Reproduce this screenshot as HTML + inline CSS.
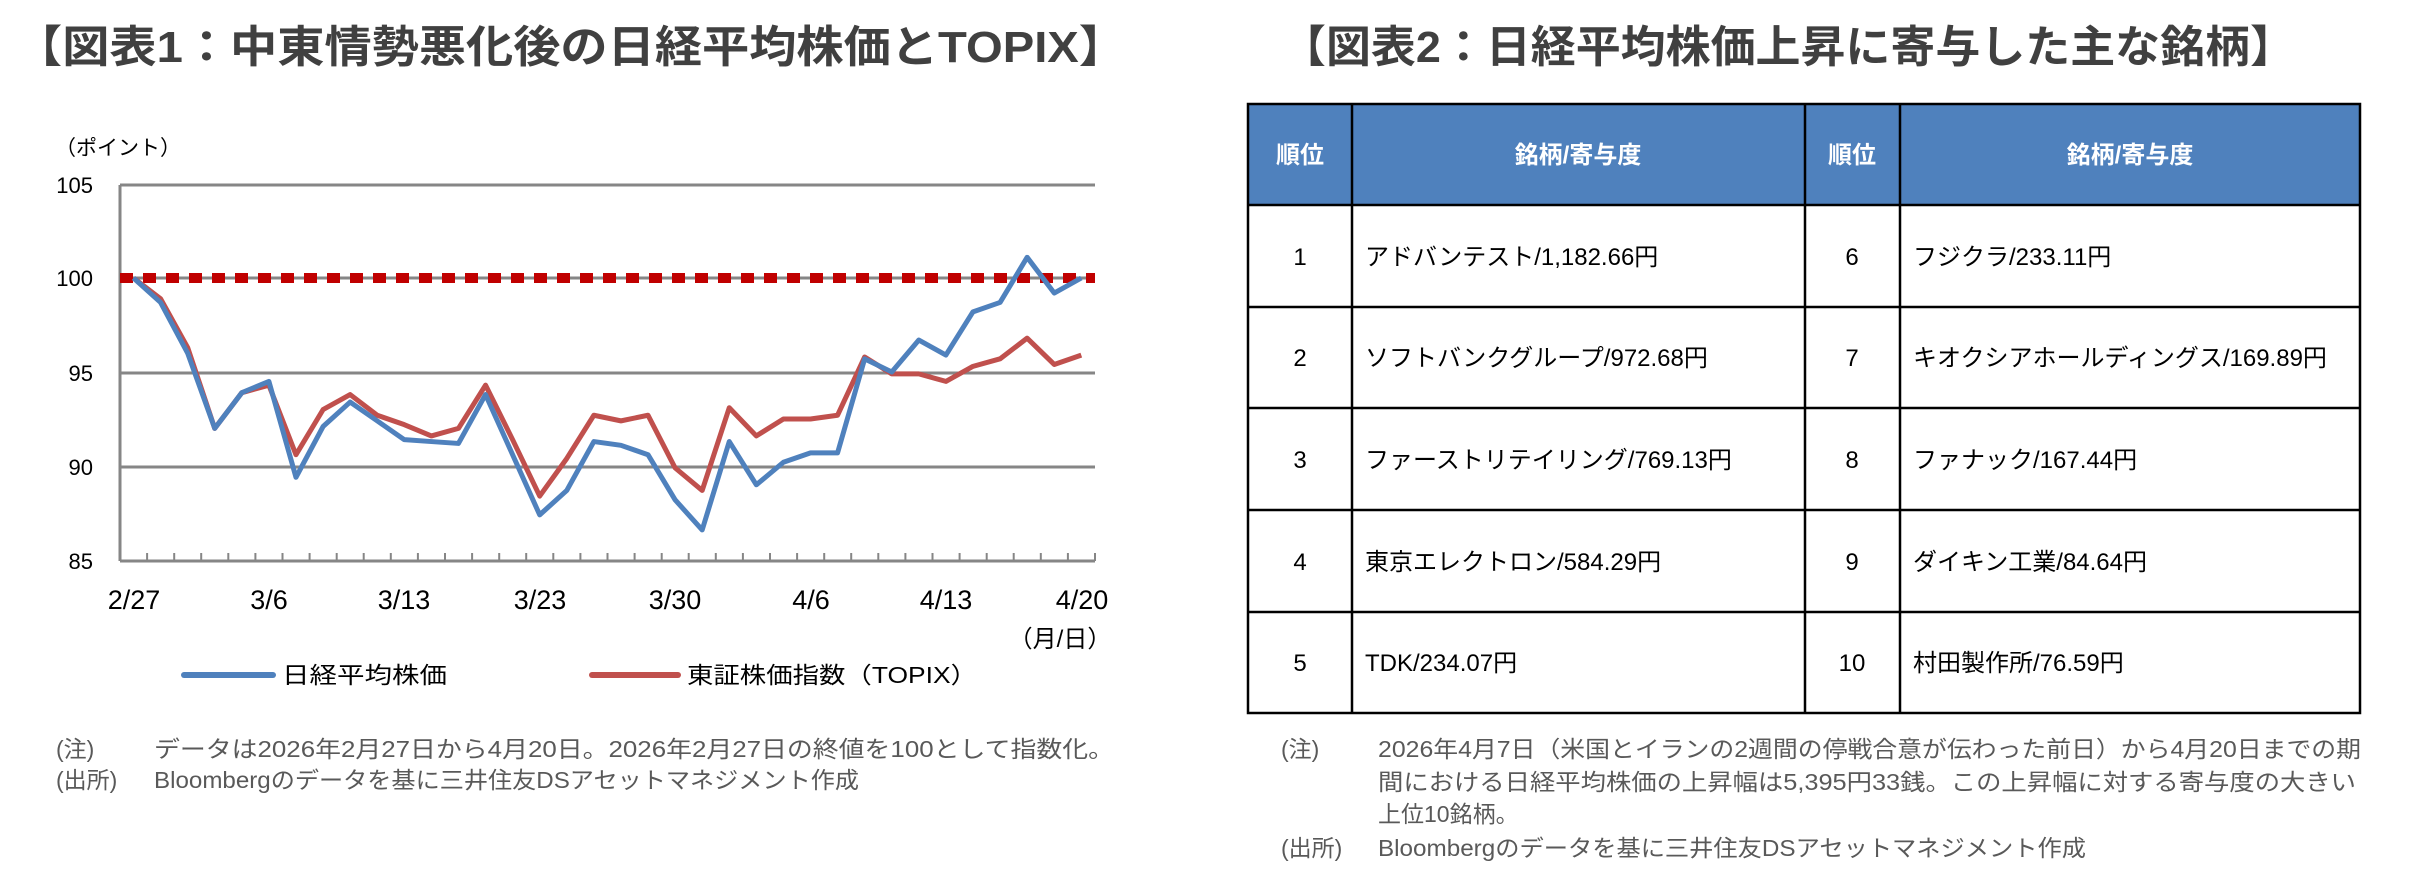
<!DOCTYPE html>
<html><head><meta charset="utf-8"><style>
html,body{margin:0;padding:0;background:#fff;width:2419px;height:879px;overflow:hidden}
text{font-family:"Liberation Sans","Noto Sans CJK JP",sans-serif}
</style></head><body>
<svg width="2419" height="879" viewBox="0 0 2419 879" xmlns="http://www.w3.org/2000/svg">
<text x="15" y="62" font-size="44" font-weight="bold" fill="#404040" textLength="1111" lengthAdjust="spacingAndGlyphs">【図表1：中東情勢悪化後の日経平均株価とTOPIX】</text>
<text x="1281" y="62" font-size="44" font-weight="bold" fill="#404040" textLength="1014" lengthAdjust="spacingAndGlyphs">【図表2：日経平均株価上昇に寄与した主な銘柄】</text>

<text x="118" y="155" font-size="21" fill="#000" text-anchor="middle">（ポイント）</text>
<g stroke="#868686" stroke-width="3">
<line x1="120" y1="185" x2="1095" y2="185"/>
<line x1="120" y1="278" x2="1095" y2="278"/>
<line x1="120" y1="373" x2="1095" y2="373"/>
<line x1="120" y1="467" x2="1095" y2="467"/>
<line x1="120" y1="561" x2="1095" y2="561"/>
<line x1="120" y1="185" x2="120" y2="561"/>
</g>
<g stroke="#868686" stroke-width="2">
<line x1="120" y1="553" x2="120" y2="561"/><line x1="147.1" y1="553" x2="147.1" y2="561"/><line x1="174.2" y1="553" x2="174.2" y2="561"/><line x1="201.2" y1="553" x2="201.2" y2="561"/><line x1="228.3" y1="553" x2="228.3" y2="561"/><line x1="255.4" y1="553" x2="255.4" y2="561"/><line x1="282.5" y1="553" x2="282.5" y2="561"/><line x1="309.6" y1="553" x2="309.6" y2="561"/><line x1="336.7" y1="553" x2="336.7" y2="561"/><line x1="363.7" y1="553" x2="363.7" y2="561"/><line x1="390.8" y1="553" x2="390.8" y2="561"/><line x1="417.9" y1="553" x2="417.9" y2="561"/><line x1="445" y1="553" x2="445" y2="561"/><line x1="472.1" y1="553" x2="472.1" y2="561"/><line x1="499.2" y1="553" x2="499.2" y2="561"/><line x1="526.2" y1="553" x2="526.2" y2="561"/><line x1="553.3" y1="553" x2="553.3" y2="561"/><line x1="580.4" y1="553" x2="580.4" y2="561"/><line x1="607.5" y1="553" x2="607.5" y2="561"/><line x1="634.6" y1="553" x2="634.6" y2="561"/><line x1="661.7" y1="553" x2="661.7" y2="561"/><line x1="688.7" y1="553" x2="688.7" y2="561"/><line x1="715.8" y1="553" x2="715.8" y2="561"/><line x1="742.9" y1="553" x2="742.9" y2="561"/><line x1="770" y1="553" x2="770" y2="561"/><line x1="797.1" y1="553" x2="797.1" y2="561"/><line x1="824.2" y1="553" x2="824.2" y2="561"/><line x1="851.2" y1="553" x2="851.2" y2="561"/><line x1="878.3" y1="553" x2="878.3" y2="561"/><line x1="905.4" y1="553" x2="905.4" y2="561"/><line x1="932.5" y1="553" x2="932.5" y2="561"/><line x1="959.6" y1="553" x2="959.6" y2="561"/><line x1="986.7" y1="553" x2="986.7" y2="561"/><line x1="1013.7" y1="553" x2="1013.7" y2="561"/><line x1="1040.8" y1="553" x2="1040.8" y2="561"/><line x1="1067.9" y1="553" x2="1067.9" y2="561"/><line x1="1095" y1="553" x2="1095" y2="561"/>
</g>
<g font-size="22" fill="#000" text-anchor="end">
<text x="93" y="193">105</text><text x="93" y="286">100</text><text x="93" y="381">95</text><text x="93" y="475">90</text><text x="93" y="569">85</text>
</g>
<g font-size="27" fill="#000" text-anchor="middle">
<text x="134" y="609">2/27</text><text x="269" y="609">3/6</text><text x="404" y="609">3/13</text><text x="540" y="609">3/23</text><text x="675" y="609">3/30</text><text x="811" y="609">4/6</text><text x="946" y="609">4/13</text><text x="1082" y="609">4/20</text>
</g>
<text x="1060" y="647" font-size="24" fill="#000" text-anchor="middle">（月/日）</text>
<line x1="120" y1="278" x2="1095" y2="278" stroke="#c00000" stroke-width="10" stroke-dasharray="13,10"/>
<g transform="translate(133.5,2158) scale(27.08,-18.8)" fill="none" stroke-linejoin="round">
<polyline vector-effect="non-scaling-stroke" stroke="#c0504d" stroke-width="5" points="0,100 1,98.9 2,96.3 3,92 4,93.9 5,94.3 6,90.6 7,93 8,93.8 9,92.7 10,92.2 11,91.6 12,92 13,94.3 14,91.4 15,88.4 16,90.4 17,92.7 18,92.4 19,92.7 20,89.9 21,88.7 22,93.1 23,91.6 24,92.5 25,92.5 26,92.7 27,95.8 28,94.9 29,94.9 30,94.5 31,95.3 32,95.7 33,96.8 34,95.4 35,95.9"/>
<polyline vector-effect="non-scaling-stroke" stroke="#4f81bd" stroke-width="5" points="0,100 1,98.7 2,96 3,92 4,93.9 5,94.5 6,89.4 7,92.1 8,93.4 9,92.4 10,91.4 11,91.3 12,91.2 13,93.8 14,90.6 15,87.4 16,88.7 17,91.3 18,91.1 19,90.6 20,88.2 21,86.6 22,91.3 23,89 24,90.2 25,90.7 26,90.7 27,95.7 28,95 29,96.7 30,95.9 31,98.2 32,98.7 33,101.1 34,99.2 35,100"/>
</g>
<line x1="184" y1="675" x2="273" y2="675" stroke="#4f81bd" stroke-width="6" stroke-linecap="round"/>
<text x="282" y="683" font-size="23" fill="#000" textLength="165" lengthAdjust="spacingAndGlyphs">日経平均株価</text>
<line x1="592" y1="675" x2="678" y2="675" stroke="#c0504d" stroke-width="6" stroke-linecap="round"/>
<text x="687" y="683" font-size="23" fill="#000" textLength="290" lengthAdjust="spacingAndGlyphs">東証株価指数（TOPIX）</text>
<g font-size="23" fill="#595959">
<text x="56" y="757">(注)</text>
<text x="154" y="757" textLength="960" lengthAdjust="spacingAndGlyphs">データは2026年2月27日から4月20日。2026年2月27日の終値を100として指数化。</text>
<text x="56" y="788">(出所)</text>
<text x="154" y="788" textLength="705" lengthAdjust="spacingAndGlyphs">Bloombergのデータを基に三井住友DSアセットマネジメント作成</text>
</g>

<rect x="1248" y="104" width="1112" height="101" fill="#4f81bd"/>
<g stroke="#000" stroke-width="2.5" fill="none">
<rect x="1248" y="104" width="1112" height="609"/>
<line x1="1248" y1="205" x2="2360" y2="205"/>
<line x1="1248" y1="307" x2="2360" y2="307"/>
<line x1="1248" y1="408" x2="2360" y2="408"/>
<line x1="1248" y1="510" x2="2360" y2="510"/>
<line x1="1248" y1="612" x2="2360" y2="612"/>
<line x1="1352" y1="104" x2="1352" y2="713"/>
<line x1="1805" y1="104" x2="1805" y2="713"/>
<line x1="1900" y1="104" x2="1900" y2="713"/>
</g>
<g font-size="24" font-weight="bold" fill="#fff" text-anchor="middle">
<text x="1300" y="163">順位</text><text x="1578" y="163">銘柄/寄与度</text>
<text x="1852" y="163">順位</text><text x="2130" y="163">銘柄/寄与度</text>
</g>
<g font-size="24" fill="#000">
<g text-anchor="middle">
<text x="1300" y="265">1</text><text x="1300" y="366">2</text><text x="1300" y="468">3</text><text x="1300" y="570">4</text><text x="1300" y="671">5</text>
<text x="1852" y="265">6</text><text x="1852" y="366">7</text><text x="1852" y="468">8</text><text x="1852" y="570">9</text><text x="1852" y="671">10</text>
</g>
<text x="1365" y="265">アドバンテスト/1,182.66円</text>
<text x="1365" y="366">ソフトバンクグループ/972.68円</text>
<text x="1365" y="468">ファーストリテイリング/769.13円</text>
<text x="1365" y="570">東京エレクトロン/584.29円</text>
<text x="1365" y="671">TDK/234.07円</text>
<text x="1913" y="265">フジクラ/233.11円</text>
<text x="1913" y="366">キオクシアホールディングス/169.89円</text>
<text x="1913" y="468">ファナック/167.44円</text>
<text x="1913" y="570">ダイキン工業/84.64円</text>
<text x="1913" y="671">村田製作所/76.59円</text>
</g>
<g font-size="23" fill="#595959">
<text x="1281" y="757">(注)</text>
<text x="1378" y="757" textLength="983" lengthAdjust="spacingAndGlyphs">2026年4月7日（米国とイランの2週間の停戦合意が伝わった前日）から4月20日までの期</text>
<text x="1378" y="790" textLength="978" lengthAdjust="spacingAndGlyphs">間における日経平均株価の上昇幅は5,395円33銭。この上昇幅に対する寄与度の大きい</text>
<text x="1378" y="822">上位10銘柄。</text>
<text x="1281" y="856">(出所)</text>
<text x="1378" y="856" textLength="708" lengthAdjust="spacingAndGlyphs">Bloombergのデータを基に三井住友DSアセットマネジメント作成</text>
</g>
</svg>
</body></html>
